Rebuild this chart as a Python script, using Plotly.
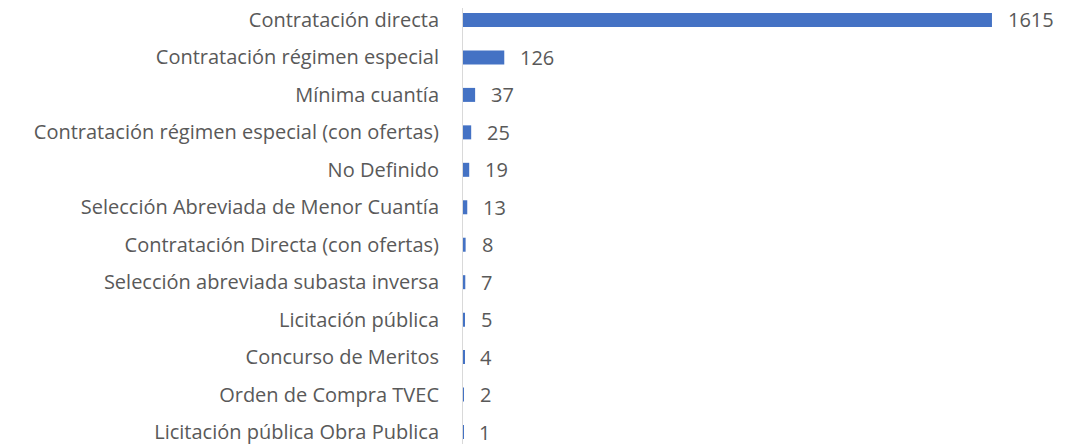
import plotly.graph_objects as go

categories = [
    "Contratación directa",
    "Contratación régimen especial",
    "Mínima cuantía",
    "Contratación régimen especial (con ofertas)",
    "No Definido",
    "Selección Abreviada de Menor Cuantía",
    "Contratación Directa (con ofertas)",
    "Selección abreviada subasta inversa",
    "Licitación pública",
    "Concurso de Meritos",
    "Orden de Compra TVEC",
    "Licitación pública Obra Publica",
]
values = [1615, 126, 37, 25, 19, 13, 8, 7, 5, 4, 2, 1]

FONT = "Open Sans"
GRAY = "#595959"
FS = 20

fig = go.Figure()
fig.add_trace(go.Bar(
    y=categories,
    x=values,
    orientation="h",
    marker=dict(color="#4472C4", line=dict(width=0)),
    hoverinfo="x+y",
))

for c, v in zip(categories, values):
    fig.add_annotation(
        x=v, y=c, xref="x", yref="y",
        text=str(v), showarrow=False,
        xanchor="left", xshift=14,
        font=dict(family=FONT, size=FS, color=GRAY),
    )

fig.update_layout(
    width=1057, height=436,
    margin=dict(l=455, r=0, t=0, b=0, autoexpand=False),
    paper_bgcolor="white", plot_bgcolor="white",
    bargap=0.626,
    showlegend=False,
    font=dict(family=FONT, size=FS, color=GRAY),
)
fig.update_xaxes(range=[0, 1838], visible=False, fixedrange=True)
fig.update_yaxes(
    type="category",
    range=[11.32, -0.32],
    showline=True, linecolor="#D9D9D9", linewidth=1,
    showgrid=False, ticks="", ticklabelstandoff=19,
    tickfont=dict(family=FONT, size=FS, color=GRAY),
    fixedrange=True, automargin=False,
)

fig.write_html("out.html")
